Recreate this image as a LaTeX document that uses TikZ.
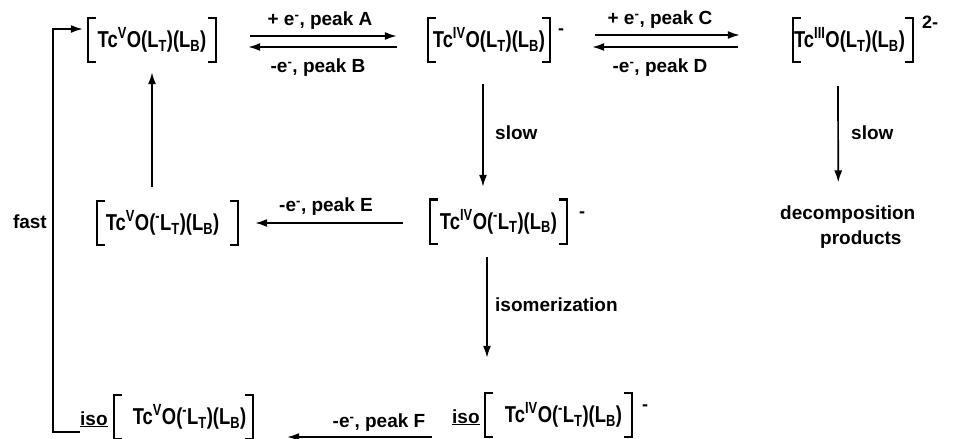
\documentclass[tikz,border=0pt]{standalone}
\usepackage{fontspec}
\setmainfont{Liberation Sans}
\newfontfamily\cfont{Liberation Sans Bold}[FakeStretch=0.8]
\usetikzlibrary{arrows.meta}
\newcommand\Lt{L\textsubscript{T}}
\newcommand\Lb{L\textsubscript{B}}
\newcommand\mn{\textsuperscript{-}}
\newcommand\bracketize[1]{%
  \draw[brk] ([xshift=8pt]#1.north west) -- (#1.north west) -- (#1.south west) -- ([xshift=8pt]#1.south west);
  \draw[brk] ([xshift=-8pt]#1.north east) -- (#1.north east) -- (#1.south east) -- ([xshift=-8pt]#1.south east);}
\begin{document}
\begin{tikzpicture}[x=1pt,y=-1pt,
  font=\bfseries\fontsize{19}{23}\selectfont,
  cmpd/.style={inner sep=0pt, minimum height=44pt, font=\cfont\fontsize{23}{26}\selectfont},
  lbl/.style={inner sep=0pt},
  chg/.style={inner sep=0pt, font=\bfseries\fontsize{18}{20}\selectfont},
  brk/.style={line width=2.4pt},
  arr/.style={line width=1.7pt, -{Latex[length=12pt,width=8pt]}}]
\useasboundingbox (0,0) rectangle (954,439);

% compounds
\node[cmpd, minimum width=128pt] (v1) at (152,40) {Tc\textsuperscript{V}O(\Lt)(\Lb)};
\node[cmpd, minimum width=122pt] (iv1) at (489,40) {Tc\textsuperscript{IV}O(\Lt)(\Lb)};
\node[chg] (iv1c) at ([xshift=11pt,yshift=-14pt]iv1.north east) {-};
\node[cmpd, minimum width=120pt] (iii) at (853,40) {Tc\textsuperscript{III}O(\Lt)(\Lb)\hspace*{7pt}};
\node[chg] (iiic) at ([xshift=17pt,yshift=-4pt]iii.north east) {2-};
\node[cmpd, minimum width=141pt] (v2) at (167.5,223) {Tc\textsuperscript{V}O(\mn\Lt)(\Lb)\hspace*{10pt}};
\node[cmpd, minimum width=137pt] (iv2) at (498.5,221.5) {Tc\textsuperscript{IV}O(\mn\Lt)(\Lb)};
\node[chg] (iv2c) at ([xshift=15pt,yshift=-15pt]iv2.north east) {-};
\node[cmpd, minimum width=139pt] (isov) at (183.5,417) {\hspace*{12pt}Tc\textsuperscript{V}O(\mn\Lt)(\Lb)};
\node[lbl, anchor=base west] (iso1) at (80,425) {\underline{iso}};
\node[cmpd, minimum width=147pt] (isoiv) at (558.5,415) {\hspace*{10pt}Tc\textsuperscript{IV}O(\mn\Lt)(\Lb)};
\node[lbl, anchor=base west] (iso2) at (452,423) {\underline{iso}};
\node[chg] (isoivc) at ([xshift=13pt,yshift=-15pt]isoiv.north east) {-};

\bracketize{v1}
\bracketize{iv1}
\bracketize{iii}
\bracketize{v2}
\bracketize{iv2}
\bracketize{isov}
\bracketize{isoiv}

% labels
\node[lbl] (lA) at (320,21) {+ e\mn, peak A};
\node[lbl] (lB) at (318,68) {-e\mn, peak B};
\node[lbl] (lC) at (660,20) {+ e\mn, peak C};
\node[lbl] (lD) at (660,68) {-e\mn, peak D};
\node[lbl] (lE) at (326,207) {-e\mn, peak E};
\node[lbl] (lF) at (379,423) {-e\mn, peak F};
\node[lbl, anchor=west] (slow1) at (495,133) {slow};
\node[lbl, anchor=west] (slow2) at (851,133) {slow};
\node[lbl, anchor=west] (isom) at (495,305) {isomerization};
\node[lbl, anchor=east] (fast) at (47,222) {fast};
\node[lbl, anchor=west, align=left, font=\bfseries\fontsize{19}{25}\selectfont] (dec) at (780,227) {decomposition\\\hspace*{40pt}products};
\coordinate (loop) at (53,222);

% arrows
\draw[arr] ([xshift=34pt,yshift=4pt]v1.east) -- ([xshift=-31pt,yshift=4pt]iv1.west);
\draw[arr] ([xshift=-31pt,yshift=-7pt]iv1.west) -- ([xshift=32pt,yshift=-7pt]v1.east);
\draw[arr] ([xshift=45pt,yshift=5pt]iv1.east) -- ([xshift=-53pt,yshift=5pt]iii.west);
\draw[arr] ([xshift=-55pt,yshift=-7pt]iii.west) -- ([xshift=42pt,yshift=-7pt]iv1.east);
\draw[arr] ([xshift=-6pt,yshift=-22pt]iv1.south) -- ([xshift=-15.5pt,yshift=12.5pt]iv2.north);
\draw[arr] ([xshift=-15.5pt,yshift=14pt]v2.north) -- ([yshift=-10pt]v1.south);
\draw[arr] ([xshift=-15pt,yshift=-24pt]iii.south) -- ([xshift=-9.5pt,yshift=23pt]dec.north);
\draw[arr] ([xshift=-27pt,yshift=-1.5pt]iv2.west) -- ([xshift=17pt]v2.east);
\draw[arr] ([xshift=-11.5pt,yshift=-13.5pt]iv2.south) -- ([xshift=-71.5pt,yshift=35pt]isoiv.north);
\draw[arr] ([xshift=-20pt,yshift=-14pt]iso2.base west) -- ([xshift=34pt,yshift=-20pt]isov.east);
\draw[arr] ([yshift=-7pt]iso1.base west) -| (loop) |- ([xshift=-5pt,yshift=11pt]v1.west);
\end{tikzpicture}
\end{document}
